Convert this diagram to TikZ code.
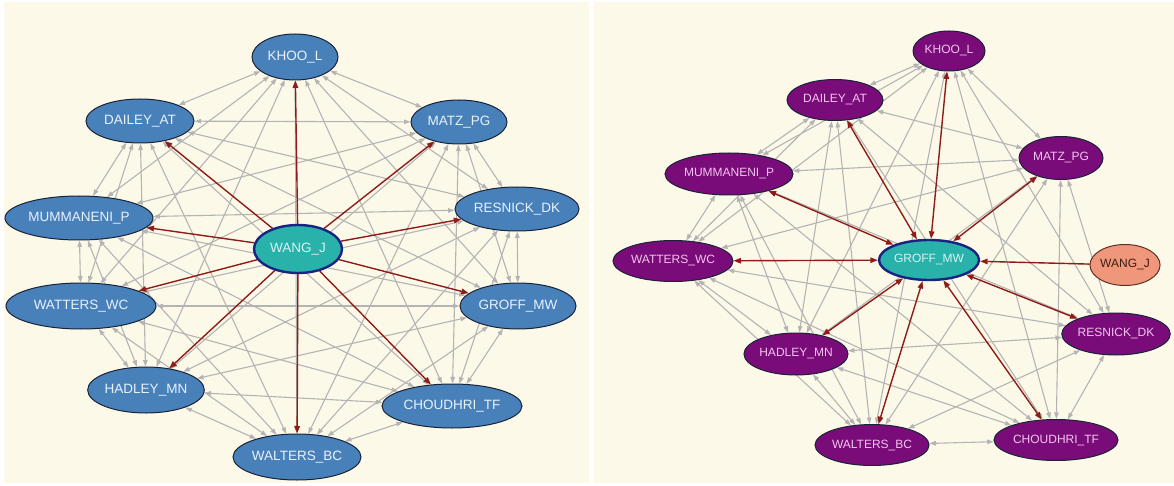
\documentclass[tikz,border=0pt]{standalone}
\usepackage{fontspec}
\setmainfont{Liberation Sans}
\usetikzlibrary{shapes.geometric,arrows.meta}
\pgfdeclarelayer{back}
\pgfdeclarelayer{links}
\pgfsetlayers{back,links,main}

\definecolor{cream}{RGB}{253,249,233}
\definecolor{steel}{RGB}{72,128,186}
\definecolor{plum}{RGB}{122,12,122}
\definecolor{tealfill}{RGB}{40,178,170}
\definecolor{salmon}{RGB}{240,150,122}
\definecolor{navy}{RGB}{26,34,130}
\definecolor{linkgray}{RGB}{180,180,180}
\definecolor{egored}{RGB}{142,28,24}
\definecolor{outline}{RGB}{25,35,55}

\tikzset{
  x=1pt, y=-1pt,
  vert/.style 2 args={ellipse, inner sep=0pt, minimum width=#1pt,
    minimum height=#2pt, draw=outline, line width=1pt},
  bluenode/.style 2 args={vert={#1}{#2}, fill=steel,
    text={rgb,255:red,232;green,242;blue,255}, font=\fontsize{13.5}{14}\selectfont},
  plumnode/.style 2 args={vert={#1}{#2}, fill=plum,
    text={rgb,255:red,242;green,196;blue,236}, font=\fontsize{12}{13}\selectfont},
  egonode/.style={draw=navy, line width=2.4pt, fill=tealfill,
    text={rgb,255:red,214;green,242;blue,240}},
  sidenode/.style={fill=salmon, draw={rgb,255:red,90;green,50;blue,40},
    text={rgb,255:red,60;green,30;blue,20}},
  graylink/.style={draw=linkgray, line width=1.1pt,
    {Triangle[length=6.5pt,width=4.5pt]}-{Triangle[length=6.5pt,width=4.5pt]}},
  redone/.style={draw=egored, line width=1.4pt,
    -{Triangle[length=7.5pt,width=5.5pt]}},
  redtwo/.style={draw=egored, line width=1.4pt,
    {Triangle[length=7.5pt,width=5.5pt]}-{Triangle[length=7.5pt,width=5.5pt]}},
}

\begin{document}
\begin{tikzpicture}
\useasboundingbox (0,0) rectangle (1174,486);
\begin{pgfonlayer}{back}
  \fill[white] (0,0) rectangle (1174,486);
  \fill[cream] (4,2) rectangle (589,483);
  \fill[cream] (594,2) rectangle (1174,483);
\end{pgfonlayer}

% ---------- left network: WANG_J as ego ----------
\node[bluenode={86}{46}]  (lKH) at (295,57)  {KHOO\_L};
\node[bluenode={108}{44}] (lDA) at (140,121) {DAILEY\_AT};
\node[bluenode={96}{44}]  (lMA) at (459,122) {MATZ\_PG};
\node[bluenode={148}{44}] (lMU) at (79,218)  {MUMMANENI\_P};
\node[bluenode={124}{44}] (lRE) at (517,209) {RESNICK\_DK};
\node[bluenode={150}{46}] (lWC) at (81,306)  {WATTERS\_WC};
\node[bluenode={116}{46}] (lGR) at (518,306) {GROFF\_MW};
\node[bluenode={116}{46}] (lHA) at (146,390) {HADLEY\_MN};
\node[bluenode={140}{44}] (lCH) at (452,406) {CHOUDHRI\_TF};
\node[bluenode={128}{46}] (lWB) at (297,457) {WALTERS\_BC};
\node[bluenode={88}{48}, egonode] (lWJ) at (298,249) {WANG\_J};

\begin{pgfonlayer}{links}
  \foreach \a [count=\i] in {lKH,lDA,lMA,lMU,lRE,lWC,lGR,lHA,lCH,lWB}{
    \foreach \b [count=\j] in {lKH,lDA,lMA,lMU,lRE,lWC,lGR,lHA,lCH,lWB}{
      \ifnum\j>\i \draw[graylink] (\a) -- (\b); \fi
    }
  }
  \foreach \b in {lKH,lDA,lMA,lMU,lRE,lWC,lGR,lHA,lCH,lWB}
    \draw[redone] (lWJ) -- (\b);
\end{pgfonlayer}

% ---------- right network: GROFF_MW as ego ----------
\node[plumnode={72}{40}]  (rKH) at (949,51)   {KHOO\_L};
\node[plumnode={96}{41}]  (rDA) at (835,100)  {DAILEY\_AT};
\node[plumnode={84}{43}]  (rMA) at (1061,158) {MATZ\_PG};
\node[plumnode={128}{42}] (rMU) at (729,174)  {MUMMANENI\_P};
\node[plumnode={120}{41}] (rWC) at (673,261)  {WATTERS\_WC};
\node[plumnode={108}{42}] (rRE) at (1116,334) {RESNICK\_DK};
\node[plumnode={104}{42}] (rHA) at (796,354)  {HADLEY\_MN};
\node[plumnode={114}{41}] (rWB) at (872,445)  {WALTERS\_BC};
\node[plumnode={124}{41}] (rCH) at (1056,440) {CHOUDHRI\_TF};
\node[plumnode={100}{40}, egonode] (rGR) at (929,260) {GROFF\_MW};
\node[plumnode={69}{41}, sidenode] (rWJ) at (1125,265) {WANG\_J};

\begin{pgfonlayer}{links}
  \foreach \a [count=\i] in {rKH,rDA,rMA,rMU,rWC,rRE,rHA,rWB,rCH}{
    \foreach \b [count=\j] in {rKH,rDA,rMA,rMU,rWC,rRE,rHA,rWB,rCH}{
      \ifnum\j>\i \draw[graylink] (\a) -- (\b); \fi
    }
  }
  \foreach \b in {rKH,rDA,rMA,rMU,rWC,rRE,rHA,rWB,rCH}
    \draw[redtwo] (rGR) -- (\b);
  \draw[redone] (rWJ) -- (rGR);
\end{pgfonlayer}
\end{tikzpicture}
\end{document}
